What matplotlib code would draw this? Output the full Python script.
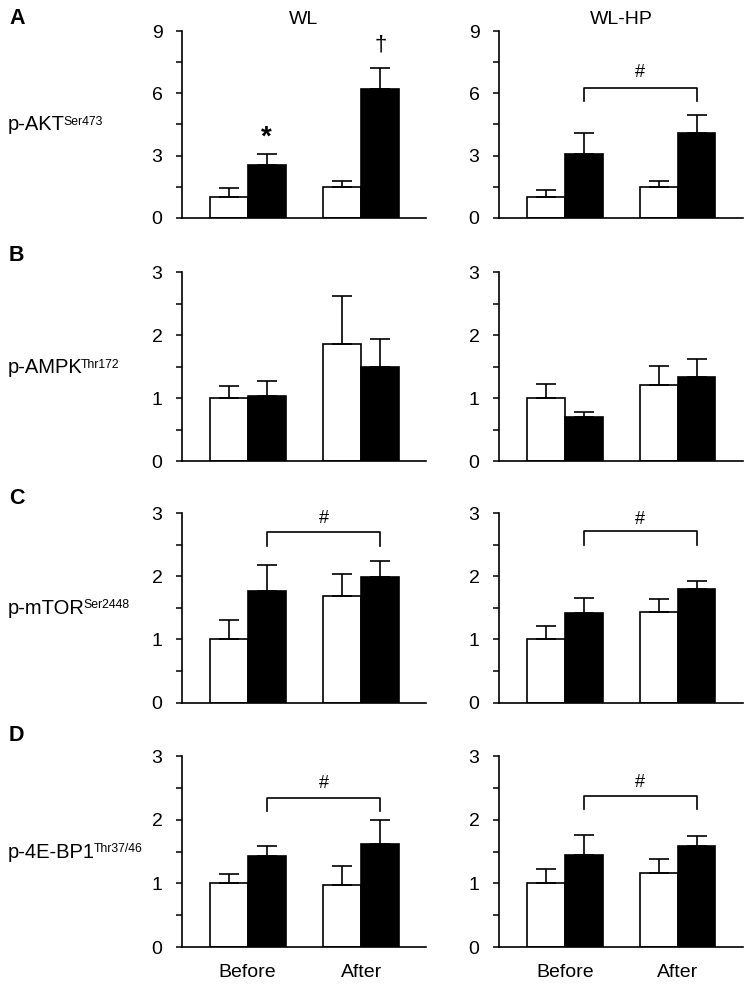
import matplotlib
matplotlib.use("Agg")
import matplotlib.pyplot as plt
import numpy as np

plt.rcParams['font.family'] = ['Liberation Sans', 'DejaVu Sans']

# ---- data ----
groups = ["Before", "After"]
columns = ["WL", "WL-HP"]
panel_letters = ["A", "B", "C", "D"]
row_main = ["p-AKT", "p-AMPK", "p-mTOR", "p-4E-BP1"]
row_sup = ["Ser473", "Thr172", "Ser2448", "Thr37/46"]
ymax = [9, 3, 3, 3]
ystep = [3, 1, 1, 1]

wl_white = [[1.0, 1.5], [1.0, 1.86], [1.0, 1.69], [1.0, 0.97]]
wl_white_err = [[0.45, 0.26], [0.2, 0.77], [0.3, 0.35], [0.14, 0.31]]
wl_black = [[2.55, 6.2], [1.04, 1.5], [1.76, 1.98], [1.43, 1.61]]
wl_black_err = [[0.55, 1.0], [0.24, 0.45], [0.41, 0.26], [0.16, 0.38]]

hp_white = [[1.0, 1.49], [1.0, 1.22], [1.0, 1.43], [1.0, 1.17]]
hp_white_err = [[0.34, 0.27], [0.23, 0.3], [0.21, 0.21], [0.22, 0.21]]
hp_black = [[3.1, 4.1], [0.71, 1.34], [1.41, 1.79], [1.44, 1.58]]
hp_black_err = [[0.97, 0.86], [0.08, 0.29], [0.24, 0.13], [0.32, 0.16]]

# brackets: (row, col, bar_y, drop_y, label_y)
brackets = [(0, 1, 6.28, 5.64, 7.0),
            (2, 0, 2.70, 2.47, 2.92), (2, 1, 2.71, 2.50, 2.90),
            (3, 0, 2.34, 2.13, 2.57), (3, 1, 2.37, 2.16, 2.59)]
# single-bar marks: (row, col, group index, y, text)
marks = [(0, 0, 0, 3.88, "*"), (0, 0, 1, 8.35, "\u2020")]

# ---- layout ----
W, H = 754, 988
fig = plt.figure(figsize=(W / 100, H / 100), dpi=100)
col_x = [(182, 426), (499, 743)]
row_y = [(31, 218), (272.5, 461.5), (513, 702.5), (756, 947)]
xlims = [(-0.578, 1.57), (-0.586, 1.58)]
bw = 0.335
x = np.arange(len(groups))

data = [(wl_white, wl_white_err, wl_black, wl_black_err),
        (hp_white, hp_white_err, hp_black, hp_black_err)]

axes = {}
for r in range(4):
    for c in range(2):
        x0, x1 = col_x[c]
        yt, yb = row_y[r]
        ax = fig.add_axes([x0 / W, 1 - yb / H, (x1 - x0) / W, (yb - yt) / H])
        axes[(r, c)] = ax
        wv, we, bv, be = data[c]
        wv, we, bv, be = wv[r], we[r], bv[r], be[r]
        ekw = dict(elinewidth=1.2, capthick=1.2, ecolor='black')
        ax.bar(x - bw / 2, wv, bw, color='white', edgecolor='black', linewidth=1.2,
               yerr=[np.zeros(len(wv)), we], capsize=7.5, error_kw=ekw, zorder=2)
        ax.bar(x + bw / 2, bv, bw, color='black', edgecolor='black', linewidth=1.2,
               yerr=[np.zeros(len(bv)), be], capsize=7.5, error_kw=ekw, zorder=2)
        ax.set_xlim(*xlims[c])
        ax.set_ylim(0, ymax[r])
        ax.set_yticks(np.arange(0, ymax[r] + 0.01, ystep[r]))
        ax.set_yticks(np.arange(ystep[r] / 2, ymax[r], ystep[r]), minor=True)
        ax.tick_params(axis='y', which='both', direction='out', length=4, width=1.1,
                       labelsize=14, pad=10)
        for s in ['top', 'right']:
            ax.spines[s].set_visible(False)
        for s in ['left', 'bottom']:
            ax.spines[s].set_linewidth(1.2)
        ax.tick_params(axis='x', length=0, labelsize=14, pad=12)
        if r == 3:
            ax.set_xticks(x)
            ax.set_xticklabels(groups)
        else:
            ax.set_xticks([])
        if r == 0:
            ax.set_title(columns[c], fontsize=14, pad=5)

renderer = fig.canvas.get_renderer()
for r in range(4):
    yt, yb = row_y[r]
    base_px = (yt + yb) / 2 + 6
    t = fig.text(8 / W, 1 - base_px / H, row_main[r], fontsize=14.5,
                 ha='left', va='baseline')
    bb = t.get_window_extent(renderer)
    fig.text((bb.x1 - 1.5) / W, 1 - (base_px - 5.5) / H, row_sup[r], fontsize=8.8,
             ha='left', va='baseline')

letter_y = [18, 255, 498, 735]
for r in range(4):
    fig.text(9 / W, 1 - letter_y[r] / H, panel_letters[r], fontsize=15.5,
             fontweight='bold', ha='left', va='center')

for (r, c, yb_, yd, yl) in brackets:
    ax = axes[(r, c)]
    xa, xb = x[0] + bw / 2, x[1] + bw / 2
    ax.plot([xa, xa, xb, xb], [yd, yb_, yb_, yd], color='black', lw=1.2,
            clip_on=False)
    ax.text((xa + xb) / 2, yl, "#", ha='center', va='center', fontsize=13)

for (r, c, g, yv, t) in marks:
    ax = axes[(r, c)]
    fs = 20 if t == "*" else 16
    ax.text(x[g] + bw / 2, yv, t, ha='center', va='center', fontsize=fs,
            fontweight='bold' if t == "*" else 'normal', clip_on=False)

fig.savefig("out.png", dpi=100)
